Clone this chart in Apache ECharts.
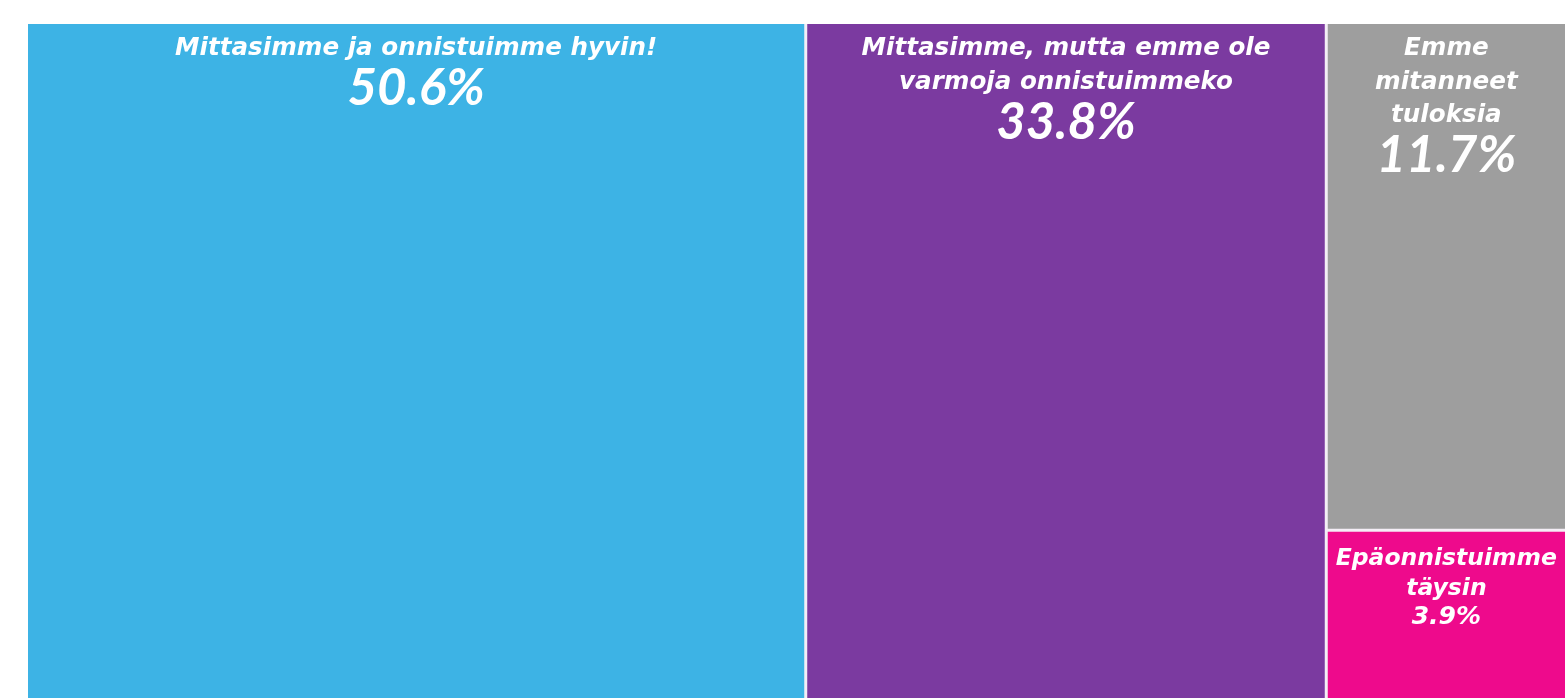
<!DOCTYPE html>
<html>
<head>
<meta charset="utf-8">
<script src="https://cdn.jsdelivr.net/npm/echarts@6/dist/echarts.min.js"></script>
<style>
  html, body { margin: 0; padding: 0; background: #ffffff; }
  #chart { width: 1565px; height: 700px; }
</style>
</head>
<body>
<div id="chart"></div>
<script>
// Survey answers: did we measure results, and did we succeed?
const categories = [
  'Mittasimme ja onnistuimme hyvin!',
  'Mittasimme, mutta emme ole\nvarmoja onnistuimmeko',
  'Emme\nmitanneet\ntuloksia',
  'Epäonnistuimme\ntäysin'
];
const shares = [50.6, 33.8, 11.7, 3.9];
const colors = ['#3db3e5', '#7b3aa0', '#9e9e9e', '#ee0a8c'];

const NAME_FONT = '"DejaVu Sans"';
const VALUE_FONT = 'Lato';

function labelText(p) {
  return p.name.split('\n').map(l => '{n|' + l + '}').join('\n') +
    '\n{v|' + p.value.toFixed(1) + '%}';
}

function bigLabel() {
  return {
    show: true,
    position: 'insideTop',
    distance: 3,
    overflow: 'none',
    formatter: labelText,
    rich: {
      n: { fontFamily: NAME_FONT, fontSize: 24.6, fontWeight: 'bold', fontStyle: 'italic', color: '#ffffff', lineHeight: 33.5, align: 'center' },
      v: { fontFamily: VALUE_FONT, fontSize: 51, fontWeight: 'bold', fontStyle: 'italic', color: '#ffffff', lineHeight: 47, align: 'center' }
    }
  };
}

function smallLabel() {
  return {
    show: true,
    position: 'insideTop',
    distance: 7,
    overflow: 'none',
    formatter: labelText,
    rich: {
      n: { fontFamily: NAME_FONT, fontSize: 23.5, fontWeight: 'bold', fontStyle: 'italic', color: '#ffffff', lineHeight: 30, align: 'center' },
      v: { fontFamily: NAME_FONT, fontSize: 25, fontWeight: 'bold', fontStyle: 'italic', color: '#ffffff', lineHeight: 28, align: 'center' }
    }
  };
}

const data = categories.map((name, i) => ({
  name: name,
  value: shares[i],
  itemStyle: { color: colors[i] },
  label: i === 3 ? smallLabel() : bigLabel()
}));

const chart = echarts.init(document.getElementById('chart'), null, { renderer: 'canvas' });
chart.setOption({
  animation: false,
  series: [{
    type: 'treemap',
    left: 28,
    top: 24,
    right: 0,
    bottom: 2,
    roam: false,
    nodeClick: false,
    breadcrumb: { show: false },
    sort: 'desc',
    itemStyle: { borderWidth: 0, gapWidth: 3, borderColor: '#f4eef6' },
    levels: [{ itemStyle: { borderWidth: 0, gapWidth: 3, borderColor: '#f4eef6' } }],
    data: data
  }]
});
</script>
</body>
</html>
